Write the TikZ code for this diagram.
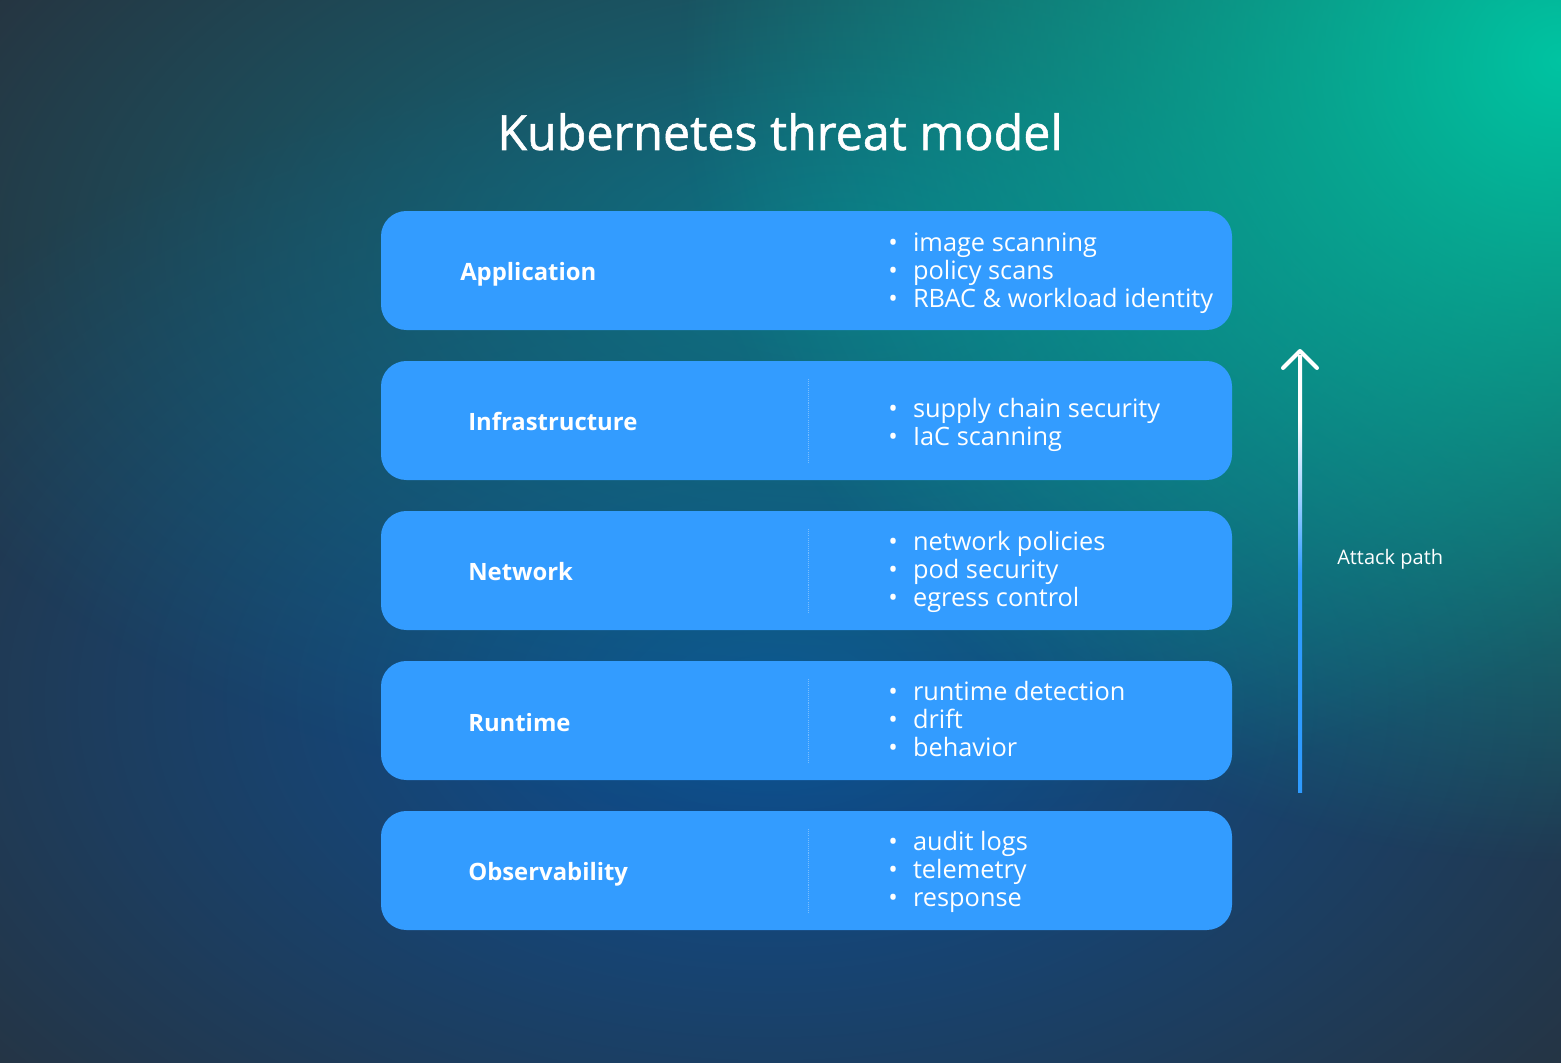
\documentclass[tikz,border=0pt]{standalone}
\usepackage{fontspec}
\setmainfont{Open Sans}
\newfontfamily\medfont[FakeBold=1.1]{Open Sans}
\usetikzlibrary{fadings}
\definecolor{bgbase}{HTML}{27333F}
\definecolor{glowblue}{HTML}{0C5096}
\definecolor{glowteal}{HTML}{0E7383}
\definecolor{glowgreen}{HTML}{00C4A2}
\definecolor{boxblue}{HTML}{339CFF}
\definecolor{arrowblue}{HTML}{2E9BFF}
\tikzfading[name=glow, inner color=transparent!0, outer color=transparent!100]
\pgfdeclareverticalshading{attackshade}{100bp}{color(0bp)=(arrowblue); color(25bp)=(arrowblue); color(50bp)=(arrowblue); color(59bp)=(arrowblue!45!white); color(67.5bp)=(white); color(100bp)=(white)}
\newcommand{\bul}{\makebox[18.6pt][l]{•}}
\tikzset{
  layer/.style={fill=boxblue, rounded corners=19pt, inner sep=0pt, minimum width=638.25pt, minimum height=89.25pt},
  lbl/.style={text=white, anchor=base west, inner sep=0pt, font=\bfseries\fontsize{17.9}{22}\selectfont},
  itm/.style={text=white, anchor=base west, inner sep=0pt, font=\fontsize{19}{21}\selectfont},
  divider/.style={draw=white, opacity=0.35, line width=0.6pt, dash pattern=on 0.8pt off 0.8pt},
  attackhead/.style={draw=white, line width=3pt, line cap=round, line join=round},
}
\begin{document}
\begin{tikzpicture}[x=0.75pt, y=-0.75pt]
\useasboundingbox (0,0) rectangle (1561,1063);
\begin{scope}
\clip (0,0) rectangle (1561,1063);
\fill[bgbase] (0,0) rectangle (1561,1063);
\fill[glowblue, path fading=glow] (770,700) ellipse [x radius=1050, y radius=650];
\fill[glowteal, path fading=glow] (840,260) ellipse [x radius=1000, y radius=560];
\fill[glowgreen, path fading=glow] (1561,60) ellipse [x radius=880, y radius=800];
\end{scope}

% title
\node[text=white, anchor=base, inner sep=0pt, font=\medfont\fontsize{36.3}{40}\selectfont] (title) at (780,150) {Kubernetes threat model};

% layers
\node[layer] (app) at (806.5,270.5) {};
\node[layer] (inf) at (806.5,420.5) {};
\node[layer] (net) at (806.5,570.5) {};
\node[layer] (run) at (806.5,720.5) {};
\node[layer] (obs) at (806.5,870.5) {};

% dividers
\draw[divider] (808,379) coordinate (d1a) -- (808,464) coordinate (d1b);
\draw[divider] (808,529) coordinate (d2a) -- (808,614) coordinate (d2b);
\draw[divider] (808,679) coordinate (d3a) -- (808,764) coordinate (d3b);
\draw[divider] (808,829) coordinate (d4a) -- (808,914) coordinate (d4b);

% labels
\node[lbl] (lapp) at (460,280) {Application};
\node[lbl] (linf) at (468,430) {Infrastructure};
\node[lbl] (lnet) at (468,580) {Network};
\node[lbl] (lrun) at (468,731) {Runtime};
\node[lbl] (lobs) at (468,880) {Observability};

% items
\node[itm] (a1) at (888,251) {\bul image scanning};
\node[itm] (a2) at (888,279) {\bul policy scans};
\node[itm] (a3) at (888,307) {\bul RBAC \& workload identity};
\node[itm] (i1) at (888,417) {\bul supply chain security};
\node[itm] (i2) at (888,445) {\bul IaC scanning};
\node[itm] (n1) at (888,550) {\bul network policies};
\node[itm] (n2) at (888,578) {\bul pod security};
\node[itm] (n3) at (888,606) {\bul egress control};
\node[itm] (r1) at (888,700) {\bul runtime detection};
\node[itm] (r2) at (888,728) {\bul drift};
\node[itm] (r3) at (888,756) {\bul behavior};
\node[itm] (o1) at (888,850) {\bul audit logs};
\node[itm] (o2) at (888,878) {\bul telemetry};
\node[itm] (o3) at (888,906) {\bul response};

% attack path arrow
\coordinate (atail) at (1300,792);
\coordinate (ahead) at (1300,351);
\shade[shading=attackshade] ([xshift=-1.5pt]atail) rectangle ([xshift=1.5pt,yshift=-3pt]ahead);
\draw[attackhead] ([xshift=-12.75pt,yshift=-12.75pt]ahead) -- (ahead) -- ([xshift=12.75pt,yshift=-12.75pt]ahead);
\node[text=white, anchor=base west, inner sep=0pt, font=\fontsize{15}{17}\selectfont] (apath) at (1337,564) {Attack path};
\end{tikzpicture}
\end{document}
